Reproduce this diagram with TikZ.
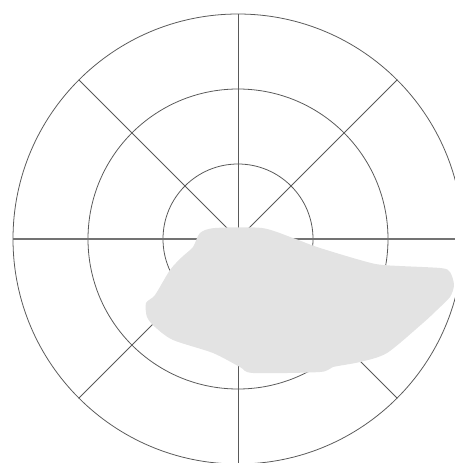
\documentclass[tikz,border=0pt]{standalone}
\usepackage{tikz}
\usetikzlibrary{calc}

\begin{document}
\begin{tikzpicture}[x=0.02cm,y=-0.02cm]
  \tikzset{gridline/.style={draw=black!65,line width=0.45pt},
           blobfill/.style={fill=black!11,draw=none}}
  % Frame: the picture is cut off at the right and lower edges.
  \clip (0,0) rectangle (455,463);
  \coordinate (O) at (238,239);
  % Polar grid: three rings and four lines through the centre.
  \foreach \r in {75,150,225}
    \draw[gridline] (O) circle (\r);
  \foreach \a in {45,90,135}
    \draw[gridline] ($(O)+(\a:225)$) -- ($(O)+(\a+180:225)$);
  \draw[gridline,draw=black!55,line width=0.7pt] ($(O)+(-225,0)$) -- (455,239);
  % Grey region.
  \fill[blobfill] plot[smooth cycle,tension=0.45] coordinates {
    (200,233) (215,228) (262,228) (293,238) (317,247) (360,260)
    (383,265) (440,268) (450,272) (454,285) (450,297) (437,310)
    (423,323) (387,353) (360,362) (333,367) (320,372) (253,373)
    (240,367) (213,353) (173,340) (155,327) (147,317) (146,303)
    (155,295) (170,270) (182,257) (193,247)};
\end{tikzpicture}
\end{document}
